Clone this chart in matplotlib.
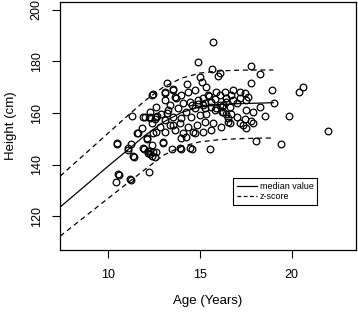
import matplotlib
matplotlib.use('Agg')
import matplotlib.pyplot as plt
from matplotlib.lines import Line2D

plt.rcParams['font.family'] = ['Liberation Sans', 'DejaVu Sans']

# growth reference curves (age in years, height in cm)
curve_age = [7.4, 9, 10, 11, 12, 13, 14, 15, 16, 17, 18, 19]
median_height = [123.5, 133.2, 139.3, 145.2, 151.2, 156.4, 160.2, 162.4, 163.3, 163.6, 163.8, 164]
upper_height = [135.5, 145.7, 152.1, 158.5, 164.7, 170, 173.5, 175.5, 176.3, 176.6, 176.7, 176.7]
lower_height = [112.2, 121.2, 126.8, 132.4, 138, 143.5, 147, 148.8, 149.6, 150, 150.2, 150.3]

# observed children
age = [10.56, 10.43, 11.23, 12.23, 11.4, 12.2, 12.4, 11.1,
       12.37, 11.29, 12.0, 12.3, 12.6, 11.83, 11.6, 12.14, 12.6, 10.5, 11.23, 11.1,
       12.55, 11.96, 12.19, 12.28, 10.6, 11.2,
       15.72, 14.9, 15.69, 16.0, 16.08, 15.03, 15.12, 14.31, 13.19, 12.46, 13.1, 13.55,
       13.1, 13.73, 14.0, 14.36, 14.73, 15.36, 15.45, 15.9, 14.91, 14.45, 14.09, 13.37,
       12.64, 12.28, 12.91, 13.28, 13.82, 14.27, 14.73, 15.18, 15.63, 16.08, 16.45, 15.81,
       16.27, 15.36, 15.0, 14.54, 14.0, 13.55, 13.1, 12.55, 12.37, 12.82, 13.37, 13.91,
       14.36, 14.82, 15.27, 15.72, 16.17, 16.54, 13.1, 13.64, 14.09, 14.64, 15.18, 15.63,
       13.0, 14.0, 14.27, 14.73, 13.46, 13.91, 14.45, 15.54, 12.37, 12.64,
       17.81, 18.3, 17.81, 18.95, 20.4, 20.6, 19.04, 19.86, 18.54, 18.3, 17.9, 17.54,
       16.81, 17.18, 17.45, 17.63, 16.36, 16.45, 16.81, 17.18, 17.54, 16.27, 16.63, 17.0,
       16.18, 16.45, 16.72, 16.54, 17.0, 17.45, 17.81, 16.63, 17.18, 17.54, 17.9, 17.36,
       18.05, 19.44, 21.97,
       13.55, 13.13, 13.64, 11.92, 12.28, 12.65, 13.19, 10.47, 11.65, 12.1, 12.46, 13.55,
       13.0, 11.92, 12.28, 12.46, 11.38, 14.0, 14.55,
       15.2, 15.5, 15.8, 16.1, 15.3, 15.6, 15.9, 16.2, 14.6, 14.9, 15.3, 16.4, 16.7]
height = [136.3, 133.1, 134.0, 137.0, 143.0, 144.6, 143.3, 145.6,
          167.0, 159.0, 158.3, 158.0, 158.6, 154.0, 152.4, 150.0, 152.8, 148.0, 148.0, 146.3,
          142.8, 146.0, 145.4, 144.0, 136.0, 134.4,
          187.7, 179.9, 176.9, 174.3, 175.4, 174.1, 172.1, 171.2, 171.7, 167.2, 167.9, 168.9,
          165.0, 165.7, 167.0, 168.3, 168.9, 170.2, 167.0, 168.3, 165.0, 164.4, 163.7, 163.1,
          162.4, 160.5, 159.8, 161.1, 161.8, 160.5, 161.8, 163.1, 164.4, 163.1, 164.4, 161.1,
          160.5, 159.8, 159.2, 158.5, 157.9, 158.3, 157.2, 157.5, 156.0, 154.7, 155.3, 156.0,
          154.7, 155.3, 156.6, 156.0, 154.7, 156.6, 152.7, 153.4, 152.1, 152.7, 152.7, 153.4,
          148.8, 150.1, 150.8, 152.1, 146.2, 146.6, 146.6, 146.2, 147.5, 144.9,
          178.2, 175.0, 171.7, 168.9, 168.0, 170.0, 164.0, 158.8, 158.8, 162.2, 160.5, 161.1,
          168.9, 168.3, 167.6, 166.3, 168.3, 165.7, 165.0, 165.7, 165.0, 163.1, 162.4, 163.7,
          160.5, 159.8, 159.8, 157.9, 158.3, 157.5, 157.0, 156.0, 156.2, 154.0, 156.0, 155.3,
          149.2, 147.9, 153.0,
          169.2, 168.3, 166.3, 158.6, 158.3, 158.8, 159.9, 148.2, 152.1, 150.2, 152.1, 155.3,
          148.2, 146.3, 145.4, 144.8, 143.3, 146.0, 146.0,
          166.0, 166.5, 165.5, 166.8, 162.0, 162.5, 161.8, 162.2, 163.0, 163.5, 164.0, 166.0, 167.0]

fig = plt.figure(figsize=(3.58, 3.14), dpi=100)
ax = fig.add_axes([0.1676, 0.2038, 0.8268, 0.7898])

ax.plot(curve_age, median_height, color='black', lw=0.9)
ax.plot(curve_age, upper_height, color='black', lw=0.9, dashes=(4, 3))
ax.plot(curve_age, lower_height, color='black', lw=0.9, dashes=(4, 3))
ax.plot(age, height, 'o', ms=4.8, mfc='none', mec='black', mew=0.9)

ax.set_xlim(7.39, 23.5)
ax.set_ylim(106.8, 203.1)
ax.set_xticks([10, 15, 20])
ax.set_yticks([120, 140, 160, 180, 200])
ax.tick_params(length=5.5, width=0.8, labelsize=9)
ax.tick_params(axis='x', pad=8)
ax.tick_params(axis='y', pad=7)
for lab in ax.get_yticklabels():
    lab.set_rotation(90)
    lab.set_va('center')
for s in ax.spines.values():
    s.set_linewidth(0.9)

ax.set_xlabel('Age (Years)', fontsize=9.5, labelpad=10)
ax.set_ylabel('Height (cm)', fontsize=9.5, labelpad=10)

handles = [Line2D([], [], color='black', lw=0.9),
           Line2D([], [], color='black', lw=0.9, dashes=(3, 2))]
leg = ax.legend(handles, ['median value', 'z-score'], loc='upper left',
                bbox_to_anchor=(0.575, 0.302), fontsize=6.5, frameon=True,
                fancybox=False, edgecolor='black', framealpha=1,
                handlelength=2.2, handletextpad=0.3, borderpad=0.45,
                labelspacing=0.15, borderaxespad=0.3)
leg.get_frame().set_linewidth(0.8)

fig.savefig('out.png', dpi=100)
